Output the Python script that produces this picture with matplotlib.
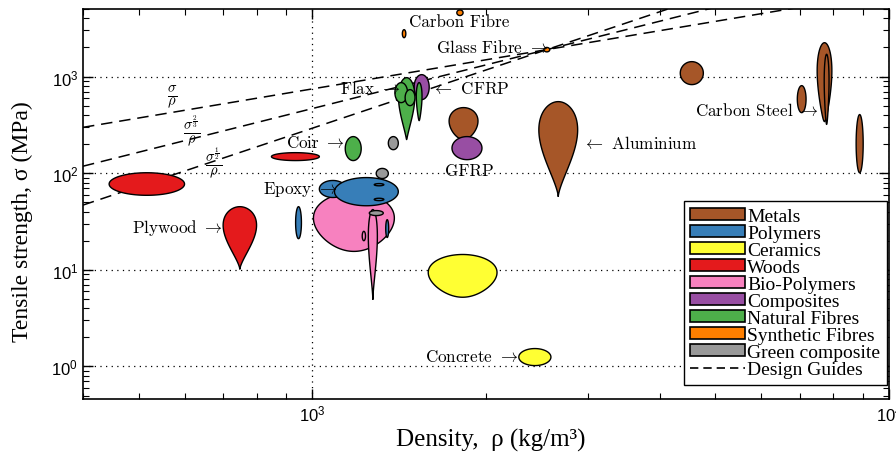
import numpy as np
import matplotlib
matplotlib.use("Agg")
import matplotlib.pyplot as plt
from matplotlib.patches import Patch
from matplotlib.lines import Line2D

plt.rcParams['font.family'] = ['Liberation Sans']

# ---------------- data ----------------
group_names = ['Metals', 'Polymers', 'Ceramics', 'Woods', 'Bio-Polymers',
               'Composites', 'Natural Fibres', 'Synthetic Fibres', 'Green composite']
group_colors = ['#a65628', '#377eb8', '#ffff33', '#e41a1c', '#f781bf',
                '#984ea3', '#4daf4a', '#ff7f00', '#999999']

# material bubbles (drawn in this order)
bub_group = ['Woods', 'Woods', 'Woods', 'Natural Fibres', 'Green composite',
             'Bio-Polymers', 'Polymers', 'Polymers', 'Green composite', 'Polymers',
             'Bio-Polymers', 'Green composite', 'Polymers', 'Bio-Polymers', 'Polymers', 'Polymers',
             'Composites', 'Natural Fibres', 'Natural Fibres', 'Natural Fibres', 'Natural Fibres',
             'Synthetic Fibres', 'Synthetic Fibres', 'Synthetic Fibres',
             'Metals', 'Composites', 'Metals', 'Ceramics', 'Ceramics',
             'Metals', 'Metals', 'Metals', 'Metals', 'Metals']
rho_lo = [444, 700, 849, 1140, 1354,
          1004, 1028, 1092, 1290, 935,
          1250, 1255, 1340, 1220, 1280, 1280,
          1501, 1410, 1390, 1448, 1514,
          1432, 1780, 2520,
          1726, 1746, 2470, 1588, 2280,
          4345, 6934, 7506, 7720, 8770]
rho_hi = [600, 800, 1028, 1215, 1409,
          1387, 1145, 1409, 1354, 957,
          1296, 1327, 1356, 1236, 1330, 1330,
          1594, 1505, 1462, 1506, 1549,
          1452, 1825, 2580,
          1937, 1968, 2884, 2090, 2592,
          4764, 7180, 7960, 7870, 9020]
sig_lo = [59, 10.1, 135, 135, 175,
          15.5, 56, 46, 88, 21,
          4.9, 36.4, 21.6, 20, 74, 52,
          577, 223, 537, 500, 350,
          2525, 4280, 1800,
          223, 138, 57, 5.2, 1.02,
          825, 423, 342, 320, 101]
sig_hi = [101, 45, 163, 239, 239,
          63, 84, 90, 112, 45,
          42, 41, 33, 25, 78, 55,
          1046, 974, 865, 732, 865,
          3055, 4890, 2000,
          477, 239, 550, 14.4, 1.53,
          1426, 805, 2240, 1700, 404]
bub_taper = [0, 1.0, 0, 0, 0,
             0.25, 0, 0, 0, 0,
             1.0, 0, 0, 0, 0, 0,
             0, 0.9, 0, 0, 0.6,
             0, 0, 0,
             0.3, 0, 1.0, 0.3, 0,
             0, 0, 0.6, 0.5, 0]

# design guides: lines through the glass fibre point with slopes 1, 3/2, 2
guide_rho = 2550
guide_sigma = 1900
guide_slopes = [1.0, 1.5, 2.0]
guide_labels = [r'$\frac{\sigma}{\rho}$', r'$\frac{\sigma^{\frac{2}{3}}}{\rho}$',
                r'$\frac{\sigma^{\frac{1}{2}}}{\rho}$']

x_ticks_major = [1e3, 1e4]
y_ticks_major = [1e0, 1e1, 1e2, 1e3]


def blob(rlo, rhi, slo, shi, taper, n=200):
    cx = (np.log10(rlo) + np.log10(rhi)) / 2
    a = (np.log10(rhi) - np.log10(rlo)) / 2
    cy = (np.log10(slo) + np.log10(shi)) / 2
    b = (np.log10(shi) - np.log10(slo)) / 2
    t = np.linspace(0, 2 * np.pi, n)
    v = np.sin(t)
    g = 1 - taper * ((1 - v) / 2) ** 1.5
    xs = np.cos(t) * g
    xs = xs / np.max(np.abs(xs))
    return 10 ** (cx + a * xs), 10 ** (cy + b * v)


fig = plt.figure(figsize=(8.96, 4.56), dpi=100)
ax = fig.add_axes([83 / 896, 1 - 400 / 456, 806 / 896, 390 / 456])
ax.set_xscale('log')
ax.set_yscale('log')
ax.set_xlim(400, 10000)
ax.set_ylim(0.46, 5000)

ax.grid(True, which='major', color='black', linestyle=(0, (1, 3.5)), linewidth=0.9, zorder=0)
ax.set_axisbelow(True)

# design guide lines
rr = np.array([400.0, 10000.0])
for s in guide_slopes:
    ax.plot(rr, guide_sigma * (rr / guide_rho) ** s, color='black',
            linestyle=(0, (7.5, 4.5)), linewidth=1.1, zorder=1.5)

cmap = dict(zip(group_names, group_colors))
for g, a, b, c, d, tp in zip(bub_group, rho_lo, rho_hi, sig_lo, sig_hi, bub_taper):
    xs, ys = blob(a, b, c, d, tp)
    ax.fill(xs, ys, facecolor=cmap[g], edgecolor='black', linewidth=1.0, zorder=2)

ax.set_xticks(x_ticks_major)
ax.set_yticks(y_ticks_major)
ax.tick_params(which='both', direction='in', top=True, right=True, labelsize=12)
ax.tick_params(which='major', length=7, width=1)
ax.tick_params(which='minor', length=4, width=0.8)
for sp in ax.spines.values():
    sp.set_linewidth(1.2)

# annotations (Computer Modern look)
ann_kw = dict(fontfamily='cmr10', math_fontfamily='cm', fontsize=12.3, zorder=5)
ax.text(1472, 3697, 'Carbon Fibre', ha='left', va='center', **ann_kw)
ax.text(2559, 2037, r'Glass Fibre $\rightarrow$', ha='right', va='center', **ann_kw)
ax.text(1420, 768, r'Flax $\rightarrow$', ha='right', va='center', **ann_kw)
ax.text(1613, 768, r'$\leftarrow$ CFRP', ha='left', va='center', **ann_kw)
ax.text(1140, 212, r'Coir $\rightarrow$', ha='right', va='center', **ann_kw)
ax.text(1869, 106, 'GFRP', ha='center', va='center', **ann_kw)
ax.text(2945, 207, r'$\leftarrow$ Aluminium', ha='left', va='center', **ann_kw)
ax.text(7535, 455, r'Carbon Steel $\rightarrow$', ha='right', va='center', **ann_kw)
ax.text(1105, 69.3, r'Epoxy $\rightarrow$', ha='right', va='center', **ann_kw)
ax.text(699, 27.4, r'Plywood $\rightarrow$', ha='right', va='center', **ann_kw)
ax.text(2272, 1.27, r'Concrete $\rightarrow$', ha='right', va='center', **ann_kw)

guide_label_pos = [(570, 620), (618, 282), (674, 132)]
for (px, py), lab in zip(guide_label_pos, guide_labels):
    ax.text(px, py, lab, ha='center', va='center', math_fontfamily='cm', fontsize=15, zorder=5)

# legend
handles = [Patch(facecolor=c, edgecolor='black', linewidth=1.2, label=n)
           for n, c in zip(group_names, group_colors)]
handles.append(Line2D([], [], color='black', linestyle=(0, (5, 3)), linewidth=1.2, label='Design Guides'))
leg = ax.legend(handles=handles, loc='lower right', bbox_to_anchor=(0.9975, 0.036),
                borderaxespad=0, fancybox=False, framealpha=1, edgecolor='black',
                prop={'family': 'Liberation Serif', 'size': 14},
                handlelength=2.8, handleheight=0.55, handletextpad=0.12,
                labelspacing=0.0, borderpad=0.35)
leg.get_frame().set_linewidth(1.0)
leg.set_zorder(6)

fig.text(22 / 896, 1 - 222 / 456, 'Tensile strength, σ (MPa)', rotation=90,
         ha='center', va='center', fontfamily='Liberation Serif', fontsize=17)
fig.text(491 / 896, 1 - 440 / 456, 'Density,  ρ (kg/m³)', ha='center', va='center',
         fontfamily='Liberation Serif', fontsize=18)

fig.savefig('out.png', dpi=100)
